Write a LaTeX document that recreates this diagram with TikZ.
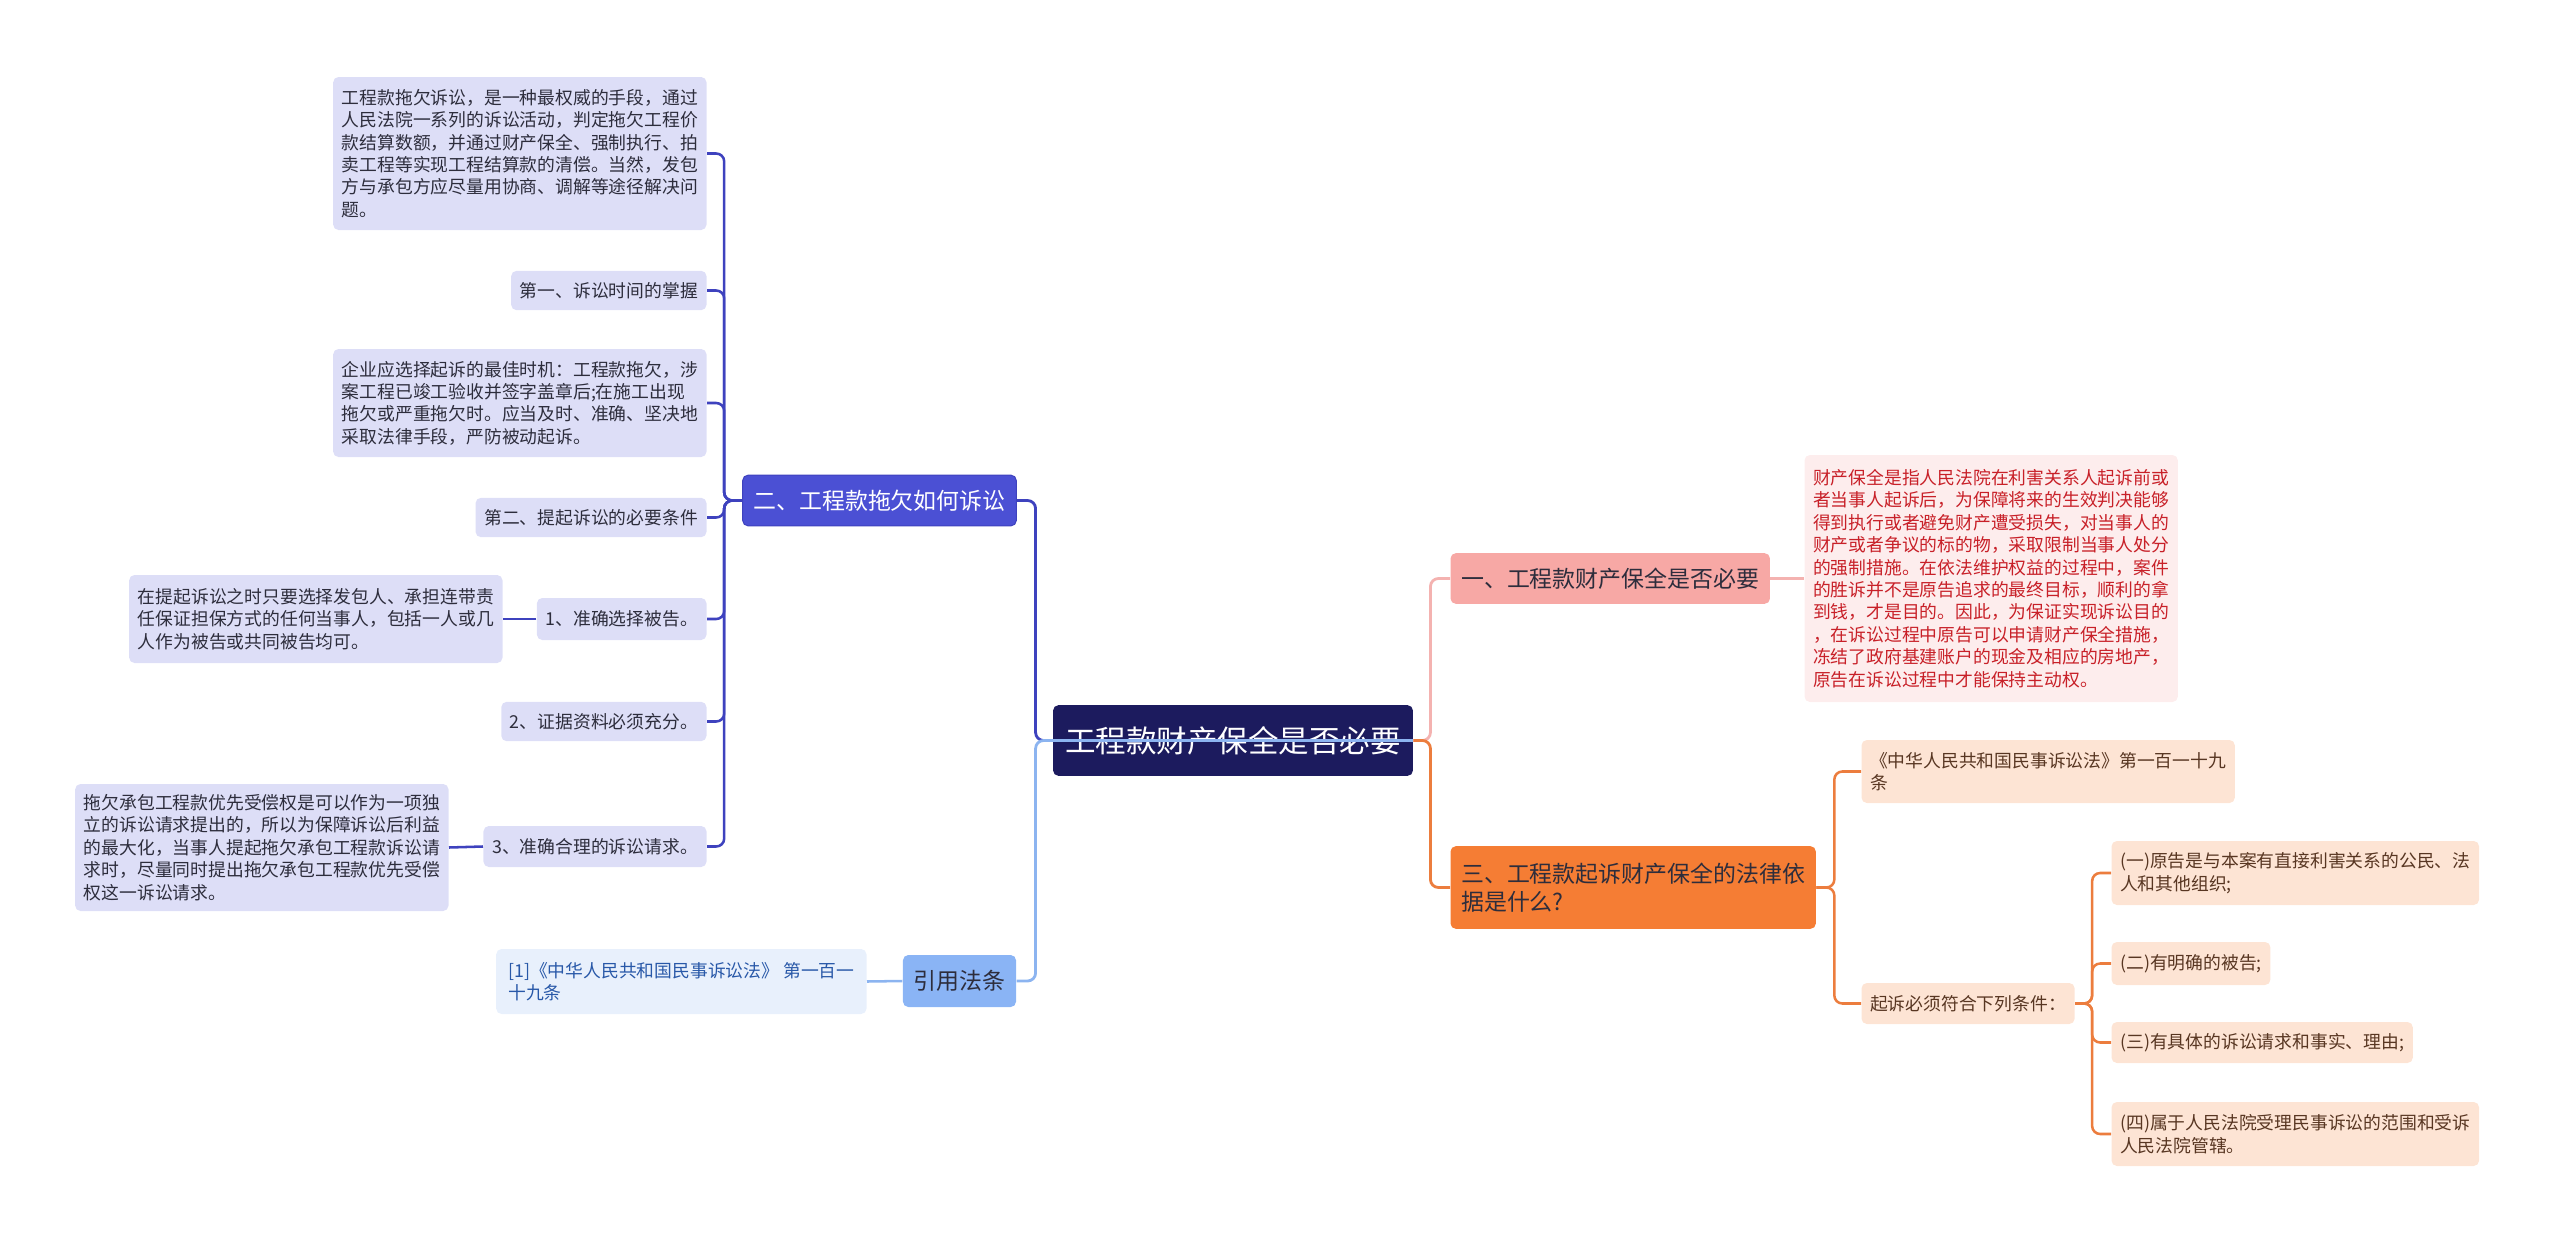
\documentclass[tikz,border=0pt]{standalone}
\usepackage{fontspec}
\setmainfont{Noto Sans CJK SC}

\definecolor{rootc}{RGB}{28,27,94}
\definecolor{twoc}{RGB}{75,80,212}
\definecolor{twoline}{RGB}{62,66,190}
\definecolor{leafc}{RGB}{221,222,247}
\definecolor{leaftext}{RGB}{45,45,60}
\definecolor{refc}{RGB}{138,180,245}
\definecolor{refline}{RGB}{140,180,240}
\definecolor{refleafc}{RGB}{232,240,252}
\definecolor{refleaftext}{RGB}{40,88,168}
\definecolor{onec}{RGB}{247,168,165}
\definecolor{oneline}{RGB}{244,178,176}
\definecolor{redleafc}{RGB}{253,237,237}
\definecolor{redtext}{RGB}{200,32,40}
\definecolor{threec}{RGB}{245,125,52}
\definecolor{threeline}{RGB}{236,125,62}
\definecolor{peachc}{RGB}{253,228,212}
\definecolor{peachtext}{RGB}{88,54,34}

\tikzset{every picture/.style={line width=0.75pt}}
\tikzset{
rootbox/.style={fill=rootc, text=white, rounded corners=4pt, inner xsep=9pt, minimum height=53pt, font=\fontsize{22.9pt}{26pt}\selectfont},
mainbox/.style={rounded corners=4pt, inner xsep=8pt, inner ysep=4pt, align=left, font=\fontsize{17.2pt}{21pt}\selectfont},
leafbox/.style={rounded corners=4pt, inner xsep=6.5pt, inner ysep=3pt, align=left, minimum height=29.5pt, font=\fontsize{13.35pt}{16.8pt}\selectfont},
leafL/.style={leafbox, fill=leafc, text=leaftext},
leafR/.style={leafbox, fill=peachc, text=peachtext},
rootline/.style={line width=2.1pt, rounded corners=6pt},
branchline/.style={line width=1.9pt, rounded corners=6pt}
}

\begin{document}
\begin{tikzpicture}[x=0.75pt,y=0.75pt,yscale=-1,xscale=1]
\useasboundingbox (0,0) rectangle (2560,1242);

% Text Node
\node[rootbox] (root) at (1233,740.5) {工程款财产保全是否必要};

% Text Node
\node[mainbox, fill=twoc, draw=twoline, text=white, minimum height=38pt] (two) at (879.5,500.5) {二、工程款拖欠如何诉讼};
% Text Node
\node[mainbox, fill=refc, text=leaftext, minimum height=39pt] (ref) at (959.5,981) {引用法条};
% Text Node
\node[mainbox, fill=onec, text=leaftext, minimum height=38pt, anchor=west] (one) at (1450,578.5) {一、工程款财产保全是否必要};
% Text Node
\node[mainbox, fill=threec, text=leaftext, minimum height=62pt, anchor=west] (three) at (1450,887.5) {三、工程款起诉财产保全的法律依\\据是什么?};

% Text Node
\node[leafL, anchor=east, minimum height=114.75pt] (timing) at (707,153.5) {工程款拖欠诉讼，是一种最权威的手段，通过\\人民法院一系列的诉讼活动，判定拖欠工程价\\款结算数额，并通过财产保全、强制执行、拍\\卖工程等实现工程结算款的清偿。当然，发包\\方与承包方应尽量用协商、调解等途径解决问\\题。};
% Text Node
\node[leafL, anchor=east] (first) at (707,290.5) {第一、诉讼时间的掌握};
% Text Node
\node[leafL, anchor=east, minimum height=81pt] (moment) at (707,403) {企业应选择起诉的最佳时机：工程款拖欠，涉\\案工程已竣工验收并签字盖章后;在施工出现\\拖欠或严重拖欠时。应当及时、准确、坚决地\\采取法律手段，严防被动起诉。};
% Text Node
\node[leafL, anchor=east] (second) at (707,517.5) {第二、提起诉讼的必要条件};
% Text Node
\node[leafL, anchor=east, minimum height=31.5pt] (defendant) at (707,619) {1、准确选择被告。};
% Text Node
\node[leafL, anchor=east, minimum height=66pt] (defnote) at (503,619) {在提起诉讼之时只要选择发包人、承担连带责\\任保证担保方式的任何当事人，包括一人或几\\人作为被告或共同被告均可。};
% Text Node
\node[leafL, anchor=east] (evidence) at (707,721.5) {2、证据资料必须充分。};
% Text Node
\node[leafL, anchor=east, minimum height=30.75pt] (claim) at (707,846.5) {3、准确合理的诉讼请求。};
% Text Node
\node[leafL, anchor=east, minimum height=95.25pt] (claimnote) at (449,847.5) {拖欠承包工程款优先受偿权是可以作为一项独\\立的诉讼请求提出的，所以为保障诉讼后利益\\的最大化，当事人提起拖欠承包工程款诉讼请\\求时，尽量同时提出拖欠承包工程款优先受偿\\权这一诉讼请求。};

% Text Node
\node[leafbox, fill=refleafc, text=refleaftext, anchor=east, minimum height=48.75pt, inner xsep=9pt] (refleaf) at (867,981.5) {[1]《中华人民共和国民事诉讼法》 第一百一\\十九条};

% Text Node
\node[leafbox, fill=redleafc, text=redtext, anchor=west, minimum height=185.25pt] (meaning) at (1804,578.5) {财产保全是指人民法院在利害关系人起诉前或\\者当事人起诉后，为保障将来的生效判决能够\\得到执行或者避免财产遭受损失，对当事人的\\财产或者争议的标的物，采取限制当事人处分\\的强制措施。在依法维护权益的过程中，案件\\的胜诉并不是原告追求的最终目标，顺利的拿\\到钱，才是目的。因此，为保证实现诉讼目的\\，在诉讼过程中原告可以申请财产保全措施，\\冻结了政府基建账户的现金及相应的房地产，\\原告在诉讼过程中才能保持主动权。};

% Text Node
\node[leafR, anchor=west, minimum height=47.25pt] (law) at (1861,771.5) {《中华人民共和国民事诉讼法》第一百一十九\\条};
% Text Node
\node[leafR, anchor=west, minimum height=30.75pt] (cond) at (1861,1003.5) {起诉必须符合下列条件：};
% Text Node
\node[leafR, anchor=west, minimum height=48pt] (condA) at (2111,873) {(一)原告是与本案有直接利害关系的公民、法\\人和其他组织;};
% Text Node
\node[leafR, anchor=west, minimum height=32.25pt] (condB) at (2111,963.5) {(二)有明确的被告;};
% Text Node
\node[leafR, anchor=west, minimum height=30.75pt] (condC) at (2111,1042.5) {(三)有具体的诉讼请求和事实、理由;};
% Text Node
\node[leafR, anchor=west, minimum height=48pt] (condD) at (2111,1134) {(四)属于人民法院受理民事诉讼的范围和受诉\\人民法院管辖。};

%Connectors from the root
\draw[rootline, twoline] (root.west) -- ++(-17,0) |- (two.east);
\draw[rootline, refline] (root.east) -- (root.west) -- ++(-17,0) |- (ref.east);
\draw[rootline, oneline] (root.east) -- ++(17,0) |- (one.west);
\draw[rootline, threeline] (root.east) -- ++(17,0) |- (three.west);

%Left branch
\foreach \leaf in {timing,first,moment,second,defendant,evidence,claim}
  \draw[branchline, twoline] (two.west) -- ++(-18,0) |- (\leaf.east);
\draw[branchline, twoline] (defendant.west) -- (defnote.east);
\draw[branchline, twoline] (claim.west) -- (claimnote.east);
\draw[branchline, refline] (ref.west) -- (refleaf.east);

%Right branch
\draw[branchline, oneline] (one.east) -- (meaning.west);
\foreach \leaf in {law,cond}
  \draw[branchline, threeline] (three.east) -- ++(18,0) |- (\leaf.west);
\foreach \leaf in {condA,condB,condC,condD}
  \draw[branchline, threeline] (cond.east) -- ++(17,0) |- (\leaf.west);

\end{tikzpicture}
\end{document}
